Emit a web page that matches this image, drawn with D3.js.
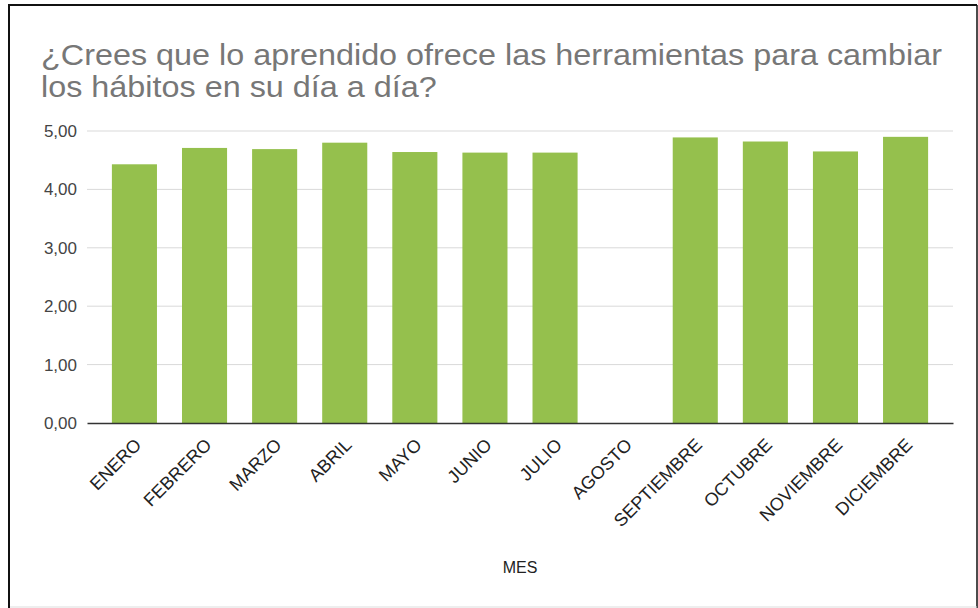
<!DOCTYPE html>
<html>
<head>
<meta charset="utf-8">
<script src="https://cdn.jsdelivr.net/npm/d3@7"></script>
<style>
  html, body { margin: 0; padding: 0; background: #fff; }
  svg { display: block; }
</style>
</head>
<body>
<svg id="chart" width="978" height="608"></svg>
<script>
const titleLines = ["¿Crees que lo aprendido ofrece las herramientas para cambiar", "los hábitos en su día a día?"];
const months = ["ENERO","FEBRERO","MARZO","ABRIL","MAYO","JUNIO","JULIO","AGOSTO","SEPTIEMBRE","OCTUBRE","NOVIEMBRE","DICIEMBRE"];
const values = [4.43, 4.71, 4.69, 4.80, 4.64, 4.63, 4.63, null, 4.89, 4.82, 4.65, 4.90];
const yTicks = [0, 1, 2, 3, 4, 5];
const xTitle = "MES";

const svg = d3.select("#chart");
const W = 978, H = 608;
const plot = { left: 87, right: 953, top: 131, bottom: 423 };
const FONT = "Arial, 'Liberation Sans', sans-serif";

svg.append("rect").attr("x", 0).attr("y", 0).attr("width", W).attr("height", H).attr("fill", "#fff");

// frame
svg.append("line").attr("x1", 9).attr("x2", 9).attr("y1", 5).attr("y2", 608).attr("stroke", "#111").attr("stroke-width", 2);
svg.append("line").attr("x1", 8).attr("x2", 977).attr("y1", 5).attr("y2", 5).attr("stroke", "#111").attr("stroke-width", 2);
svg.append("line").attr("x1", 977).attr("x2", 977).attr("y1", 5).attr("y2", 608).attr("stroke", "#111").attr("stroke-width", 1.5);
svg.append("line").attr("x1", 10).attr("x2", 977).attr("y1", 607).attr("y2", 607).attr("stroke", "#ddd").attr("stroke-width", 1);

// title
const title = svg.append("text")
  .attr("fill", "#777")
  .style("font-family", FONT)
  .style("font-size", "29px");
const tspans = titleLines.map((t, i) =>
  title.append("tspan").attr("x", 41).attr("y", 65 + i * 32).text(t));
const natural0 = tspans[0].node().getComputedTextLength();
const k = 901 / natural0;
tspans.forEach(ts => {
  const len = ts.node().getComputedTextLength();
  ts.attr("textLength", len * k).attr("lengthAdjust", "spacingAndGlyphs");
});

const x = d3.scaleBand().domain(months).range([plot.left, plot.right]).paddingInner(0.357).paddingOuter(0.355);
const y = d3.scaleLinear().domain([0, 5]).range([plot.bottom, plot.top]);

// gridlines
svg.append("g")
  .selectAll("line")
  .data(yTicks.filter(d => d > 0))
  .join("line")
  .attr("x1", plot.left).attr("x2", plot.right)
  .attr("y1", d => y(d)).attr("y2", d => y(d))
  .attr("stroke", "#d9d9d9").attr("stroke-width", 1);

// y axis labels
const yAxis = d3.axisLeft(y).tickValues(yTicks).tickSize(0).tickPadding(10)
  .tickFormat(d => d3.format(".2f")(d).replace(".", ","));
const gy = svg.append("g").attr("transform", `translate(${plot.left},0)`).call(yAxis);
gy.select(".domain").remove();
gy.selectAll("text")
  .attr("fill", "#444")
  .style("font-family", FONT)
  .style("font-size", "17px");

// bars
svg.append("g")
  .selectAll("rect")
  .data(months.map((m, i) => ({ m, v: values[i] })).filter(d => d.v != null))
  .join("rect")
  .attr("x", d => x(d.m))
  .attr("width", x.bandwidth())
  .attr("y", d => y(d.v))
  .attr("height", d => y(0) - y(d.v))
  .attr("fill", "#95c04d");

// x axis
const xAxis = d3.axisBottom(x).tickSize(0);
const gx = svg.append("g").attr("transform", `translate(0,${plot.bottom})`).call(xAxis);
gx.select(".domain").attr("stroke", "#333").attr("stroke-width", 1.5);
gx.selectAll("text")
  .attr("fill", "#222")
  .style("font-family", FONT)
  .style("font-size", "18px")
  .attr("text-anchor", "end")
  .attr("x", 0).attr("y", 0).attr("dy", 0)
  .attr("transform", "translate(8,23) rotate(-45)");

// x axis title
svg.append("text")
  .attr("x", (plot.left + plot.right) / 2)
  .attr("y", 573)
  .attr("text-anchor", "middle")
  .attr("fill", "#222")
  .style("font-family", FONT)
  .style("font-size", "16px")
  .text(xTitle);
</script>
</body>
</html>
